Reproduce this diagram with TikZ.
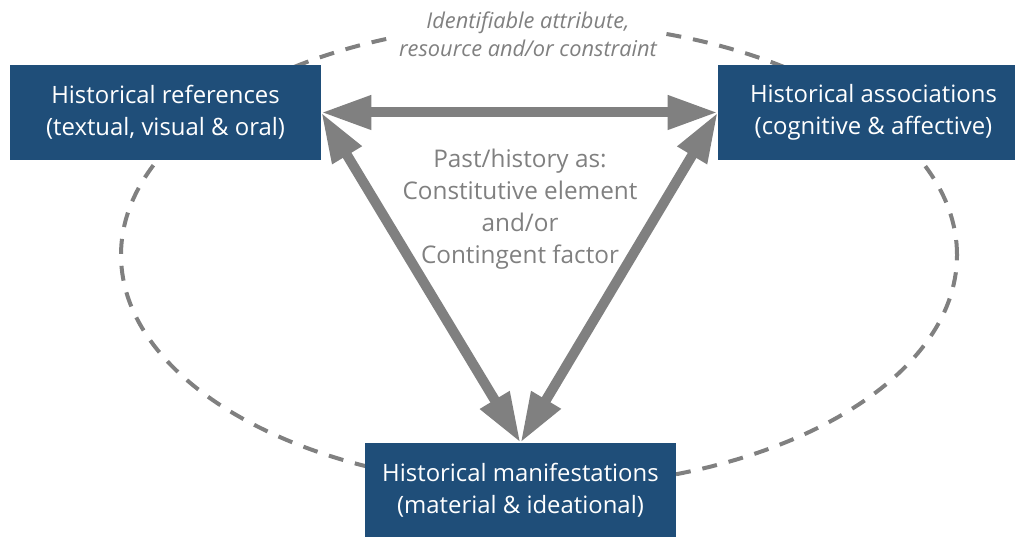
\documentclass[tikz,border=0pt]{standalone}
\usepackage{fontspec}
\setmainfont{Open Sans}
\usetikzlibrary{arrows.meta,positioning}
\definecolor{boxblue}{HTML}{1F4E79}
\definecolor{linegrey}{HTML}{808080}
\tikzset{
  histbox/.style={fill=boxblue,text=white,minimum width=7.775cm,minimum height=2.375cm,
    align=center,font=\fontsize{17}{22.5}\selectfont,inner sep=0pt},
  greyarrow/.style={draw=linegrey,line width=0.25cm,
    {Triangle[length=1.25cm,width=0.8cm]}-{Triangle[length=1.25cm,width=0.8cm]}},
  loopline/.style={draw=linegrey,line width=0.1cm,dash pattern=on 0.375cm off 0.3cm},
  greytext/.style={text=linegrey,align=center}
}
\begin{document}
\begin{tikzpicture}
        \useasboundingbox (0,0) rectangle (25.375,13.425);
        %% dashed loop behind everything
        \draw[loopline] (13.475,7.05) ellipse (10.45cm and 5.8cm);
        \node[greytext,fill=white,inner sep=2pt,font=\itshape\fontsize{15.5}{20}\selectfont] (attr) at (13.2,12.575) {Identifiable attribute,\\resource and/or constraint};
        %% the three boxes
        \node[histbox] (refs) at (4.1375,10.6125) {Historical references\\(textual, visual \& oral)};
        \node[histbox] (assoc) at (21.8375,10.6125) {Historical associations\\(cognitive \& affective)};
        \node[histbox,minimum height=2.35cm] (manif) at (13.0125,1.175) {Historical manifestations\\(material \& ideational)};
        %% centre text
        \node[greytext,font=\fontsize{17.3}{22.7}\selectfont] (past) at (13.0,8.2) {Past/history as:\\Constitutive element\\and/or\\Contingent factor};
        %% arrows
        \draw[greyarrow] (refs.east) -- (assoc.west);
        \draw[greyarrow] (refs.east) -- (manif.north);
        \draw[greyarrow] (assoc.west) -- (manif.north);
    \end{tikzpicture}
\end{document}
